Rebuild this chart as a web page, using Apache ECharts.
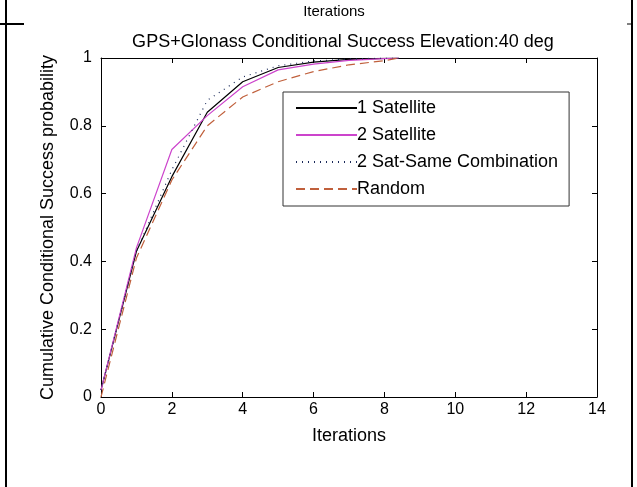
<!DOCTYPE html>
<html>
<head>
<meta charset="utf-8">
<script src="https://cdn.jsdelivr.net/npm/echarts@6/dist/echarts.min.js"></script>
<style>
  html, body { margin: 0; padding: 0; background: #fff; }
  #chart { width: 637px; height: 487px; }
</style>
</head>
<body>
<div id="chart"></div>
<script>
// Iteration counts and cumulative conditional success probabilities
var iterations = [0, 1, 2, 3, 4, 5, 6, 7, 8, 8.4];
var oneSatellite = [0.02, 0.43, 0.65, 0.84, 0.93, 0.972, 0.988, 0.996, 0.999, 1.0];
var twoSatellite = [0.02, 0.44, 0.73, 0.83, 0.915, 0.965, 0.982, 0.993, 0.998, 1.0];
var twoSatSame = [0.02, 0.43, 0.67, 0.875, 0.944, 0.977, 0.991, 0.997, 1.0, 1.0];
var randomSel = [0.0, 0.41, 0.64, 0.80, 0.885, 0.93, 0.96, 0.98, 0.992, 1.0];

var seriesNames = ['1 Satellite', '2 Satellite', '2 Sat-Same Combination', 'Random'];

function pairs(xs, ys) {
  return xs.map(function (x, i) { return [x, ys[i]]; });
}

var font = '"Liberation Sans", Arial, sans-serif';
var chart = echarts.init(document.getElementById('chart'));

function tick() {
  return { show: true, inside: true, length: 5, lineStyle: { color: '#000', width: 1 } };
}
function axisLine() {
  return { show: true, onZero: false, lineStyle: { color: '#000', width: 1 } };
}

chart.setOption({
  animation: false,
  backgroundColor: '#fff',
  title: {
    text: 'GPS+Glonass Conditional Success Elevation:40 deg',
    left: 338, top: 28, textAlign: 'center',
    textStyle: { fontFamily: font, fontSize: 18, fontWeight: 'normal', color: '#000' }
  },
  grid: { left: 101, right: 40, top: 58, bottom: 90 },
  legend: {
    orient: 'vertical',
    left: 283, top: 92,
    padding: [7, 11, 8, 12],
    itemGap: 9,
    itemWidth: 61, itemHeight: 18,
    backgroundColor: '#fff',
    borderColor: '#333', borderWidth: 1,
    itemStyle: { opacity: 0, borderWidth: 0 },
    textStyle: { fontFamily: font, fontSize: 18, color: '#000', padding: [0, 0, 0, -5] },
    data: seriesNames
  },
  xAxis: [{
    type: 'value', min: 0, max: 14, interval: 2,
    name: 'Iterations', nameLocation: 'middle', nameGap: 30,
    nameTextStyle: { fontFamily: font, fontSize: 18, color: '#000' },
    axisLine: axisLine(), axisTick: tick(),
    axisLabel: { fontFamily: font, fontSize: 16, color: '#000', margin: 5 },
    splitLine: { show: false }
  }, {
    type: 'value', min: 0, max: 14, interval: 2, position: 'top',
    axisLine: axisLine(), axisTick: tick(),
    axisLabel: { show: false }, splitLine: { show: false }
  }],
  yAxis: [{
    type: 'value', min: 0, max: 1, interval: 0.2,
    name: 'Cumulative Conditional Success probability', nameLocation: 'middle', nameGap: 44,
    nameTextStyle: { fontFamily: font, fontSize: 18, color: '#000' },
    axisLine: axisLine(), axisTick: tick(),
    axisLabel: { fontFamily: font, fontSize: 16, color: '#000', margin: 9 },
    splitLine: { show: false }
  }, {
    type: 'value', min: 0, max: 1, interval: 0.2, position: 'right',
    axisLine: axisLine(), axisTick: tick(),
    axisLabel: { show: false }, splitLine: { show: false }
  }],
  series: [{
    name: seriesNames[0], type: 'line', symbol: 'none',
    data: pairs(iterations, oneSatellite),
    color: '#000', lineStyle: { color: '#000', width: 1.2 }
  }, {
    name: seriesNames[1], type: 'line', symbol: 'none',
    data: pairs(iterations, twoSatellite),
    color: '#cc44cc', lineStyle: { color: '#cc44cc', width: 1.2 }
  }, {
    name: seriesNames[2], type: 'line', symbol: 'none',
    data: pairs(iterations, twoSatSame),
    color: '#1a2a5a', lineStyle: { color: '#1a2a5a', width: 1.2, type: [1, 5] }
  }, {
    name: seriesNames[3], type: 'line', symbol: 'none',
    data: pairs(iterations, randomSel),
    color: '#c0603c', lineStyle: { color: '#c0603c', width: 1.2, type: [9, 5] }
  }],
  graphic: [
    { type: 'line', shape: { x1: 6, y1: 0, x2: 6, y2: 487 }, style: { stroke: '#000', lineWidth: 2 } },
    { type: 'line', shape: { x1: 632, y1: 0, x2: 632, y2: 487 }, style: { stroke: '#000', lineWidth: 2 } },
    { type: 'line', shape: { x1: 0, y1: 24, x2: 24, y2: 24 }, style: { stroke: '#000', lineWidth: 2 } },
    { type: 'line', shape: { x1: 627, y1: 24, x2: 632, y2: 24 }, style: { stroke: '#000', lineWidth: 1 } },
    {
      type: 'text', x: 334, y: 4,
      style: { text: 'Iterations', fontFamily: font, fontSize: 15, fill: '#000', textAlign: 'center' }
    }
  ]
});
</script>
</body>
</html>
